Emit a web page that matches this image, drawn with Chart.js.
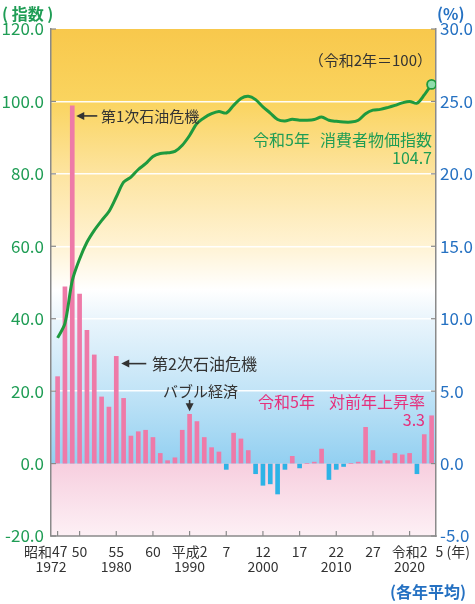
<!DOCTYPE html>
<html>
<head>
<meta charset="utf-8">
<script src="https://cdn.jsdelivr.net/npm/chart.js@4.4.1/dist/chart.umd.min.js"></script>
<style>
  html, body { margin: 0; padding: 0; background: #fff; }
  #wrap { width: 475px; height: 604px; }
</style>
</head>
<body>
<div id="wrap"><canvas id="cpiChart" width="475" height="604"></canvas></div>
<script>
// 年 (1972 = 昭和47 ... 2023 = 令和5)
const years = [1972, 1973, 1974, 1975, 1976, 1977, 1978, 1979, 1980, 1981,
  1982, 1983, 1984, 1985, 1986, 1987, 1988, 1989, 1990, 1991,
  1992, 1993, 1994, 1995, 1996, 1997, 1998, 1999, 2000, 2001,
  2002, 2003, 2004, 2005, 2006, 2007, 2008, 2009, 2010, 2011,
  2012, 2013, 2014, 2015, 2016, 2017, 2018, 2019, 2020, 2021,
  2022, 2023];

// 対前年上昇率 (%)
const rateValues = [6.0, 12.2, 24.7, 11.7, 9.2, 7.5, 4.6, 3.9, 7.4, 4.5,
  1.9, 2.2, 2.3, 1.8, 0.7, 0.2, 0.4, 2.3, 3.4, 2.9,
  1.8, 1.1, 0.8, -0.4, 2.1, 1.7, 0.9, -0.7, -1.5, -1.4,
  -2.1, -0.4, 0.5, -0.3, 0.0, 0.1, 1.0, -1.1, -0.4, -0.2,
  0.0, 0.1, 2.5, 0.9, 0.2, 0.2, 0.7, 0.6, 0.7, -0.7,
  2.0, 3.3];

// 消費者物価指数 (令和2年=100)
const indexValues = [34.7, 38.7, 50.5, 56.5, 61.1, 64.4, 67.1, 69.6, 73.6, 77.7,
  79.1, 81.2, 82.8, 84.8, 85.6, 85.8, 86.2, 87.9, 90.6, 93.9,
  95.5, 96.6, 97.2, 96.8, 98.9, 100.8, 101.4, 100.5, 98.5, 96.8,
  95.0, 94.6, 95.1, 94.8, 94.8, 95.0, 95.7, 94.8, 94.5, 94.3,
  94.3, 94.8, 96.6, 97.6, 97.8, 98.3, 98.9, 99.6, 100.0, 99.5,
  101.8, 104.7];

// 横軸の目盛り
const tickYears = [1972, 1975, 1980, 1985, 1990, 1995, 2000, 2005, 2010, 2015, 2020, 2023];
const tickEra = ['昭和47', '50', '55', '60', '平成2', '7', '12', '17', '22', '27', '令和2', '5'];
const tickWestern = ['1972', '', '1980', '', '1990', '', '2000', '', '2010', '', '2020', ''];

const FONT = "'Noto Sans CJK JP', 'Noto Sans', sans-serif";
const GREEN = '#1f9d55';
const BLUE = '#2571c2';
const MAGENTA = '#e5317d';
const DARK = '#333333';

const backgroundPlugin = {
  id: 'background',
  beforeDraw(chart) {
    const { ctx, chartArea: a, scales } = chart;
    const y = scales.y;
    const h = a.bottom - a.top;
    const pos = v => (y.getPixelForValue(v) - a.top) / h;
    const g = ctx.createLinearGradient(0, a.top, 0, a.bottom);
    g.addColorStop(0, '#f8c84c');
    g.addColorStop(pos(100), '#fad45f');
    g.addColorStop(pos(80), '#fde4a0');
    g.addColorStop(pos(60), '#fff3d4');
    g.addColorStop(pos(48), '#ffffff');
    g.addColorStop(pos(40), '#eaf5fc');
    g.addColorStop(pos(20), '#c2e4f7');
    g.addColorStop(pos(0.2), '#93d0f1');
    g.addColorStop(pos(-0.2), '#f7cfdf');
    g.addColorStop(1, '#fdf0f5');
    ctx.save();
    ctx.fillStyle = g;
    ctx.fillRect(a.left, a.top, a.right - a.left, h);
    ctx.restore();
  }
};

function arrowHead(ctx, x, y, dir) {
  // dir: 'left' or 'down'
  ctx.beginPath();
  if (dir === 'left') {
    ctx.moveTo(x, y);
    ctx.lineTo(x + 8, y - 4);
    ctx.lineTo(x + 8, y + 4);
  } else {
    ctx.moveTo(x, y);
    ctx.lineTo(x - 4, y - 8);
    ctx.lineTo(x + 4, y - 8);
  }
  ctx.closePath();
  ctx.fill();
}

const annotationPlugin = {
  id: 'annotations',
  afterDraw(chart) {
    const { ctx, chartArea: a, scales } = chart;
    const x = scales.x, y = scales.y, yR = scales.yR;
    ctx.save();

    // 下の枠線
    ctx.strokeStyle = '#8a8a8a';
    ctx.lineWidth = 1.5;
    ctx.beginPath();
    ctx.moveTo(a.left - 0.75, a.bottom);
    ctx.lineTo(a.right + 0.75, a.bottom);
    ctx.stroke();

    // 内向きの目盛り線
    ctx.lineWidth = 1.2;
    y.ticks.forEach(t => {
      const py = y.getPixelForValue(t.value);
      ctx.beginPath(); ctx.moveTo(a.left, py); ctx.lineTo(a.left + 5, py); ctx.stroke();
    });
    yR.ticks.forEach(t => {
      const py = yR.getPixelForValue(t.value);
      ctx.beginPath(); ctx.moveTo(a.right - 5, py); ctx.lineTo(a.right, py); ctx.stroke();
    });
    tickYears.slice(0, -1).forEach(yr => {
      const px = x.getPixelForValue(yr);
      ctx.beginPath(); ctx.moveTo(px, a.bottom); ctx.lineTo(px, a.bottom - 5); ctx.stroke();
    });

    // 横軸ラベル
    ctx.fillStyle = DARK;
    ctx.font = `14px ${FONT}`;
    ctx.textBaseline = 'middle';
    tickYears.forEach((yr, i) => {
      const px = x.getPixelForValue(yr);
      if (i === 0) {
        ctx.textAlign = 'right';
        ctx.fillText(tickEra[i], px + 10, 552);
        ctx.fillText(tickWestern[i], px + 9, 567);
      } else if (i === tickYears.length - 1) {
        ctx.textAlign = 'left';
        ctx.fillText(tickEra[i] + ' (年)', px + 4, 552);
      } else {
        ctx.textAlign = 'center';
        ctx.fillText(tickEra[i], px, 552);
        if (tickWestern[i]) ctx.fillText(tickWestern[i], px, 567);
      }
    });

    // 軸タイトル
    ctx.font = `bold 16px ${FONT}`;
    ctx.textAlign = 'left';
    ctx.fillStyle = GREEN;
    ctx.fillText('( 指数 )', 2, 14);
    ctx.fillStyle = BLUE;
    ctx.fillText('(%)', 437, 14);
    ctx.textAlign = 'right';
    ctx.fillText('(各年平均)', 466, 592);

    // 石油危機などの注記
    ctx.fillStyle = DARK;
    ctx.strokeStyle = DARK;
    ctx.lineWidth = 1.6;
    const x74 = x.getPixelForValue(1974) + 4;
    const y74 = yR.getPixelForValue(24.0);
    arrowHead(ctx, x74, y74, 'left');
    ctx.beginPath(); ctx.moveTo(x74 + 7, y74); ctx.lineTo(x74 + 21, y74); ctx.stroke();
    ctx.font = `15px ${FONT}`;
    ctx.textAlign = 'left';
    ctx.fillText('第1次石油危機', 101, y74);

    const x80 = x.getPixelForValue(1980) + 5;
    const y80 = yR.getPixelForValue(6.9);
    arrowHead(ctx, x80, y80, 'left');
    ctx.beginPath(); ctx.moveTo(x80 + 7, y80); ctx.lineTo(x80 + 25, y80); ctx.stroke();
    ctx.font = `16px ${FONT}`;
    ctx.fillText('第2次石油危機', 152, y80);

    const x90 = x.getPixelForValue(1990);
    const y90 = yR.getPixelForValue(3.4) - 3;
    ctx.font = `15px ${FONT}`;
    ctx.textAlign = 'center';
    ctx.fillText('バブル経済', x90 + 11, 391);
    ctx.beginPath(); ctx.moveTo(x90, 400); ctx.lineTo(x90, y90 - 6); ctx.stroke();
    arrowHead(ctx, x90, y90, 'down');

    ctx.textAlign = 'right';
    ctx.font = `15px ${FONT}`;
    ctx.fillText('（令和2年＝100）', 432, 60);

    // 令和5年の値
    ctx.fillStyle = GREEN;
    ctx.font = `16px ${FONT}`;
    ctx.textAlign = 'left';
    ctx.fillText('令和5年', 253, 140);
    ctx.textAlign = 'right';
    ctx.fillText('消費者物価指数', 432, 140);
    ctx.fillText(indexValues[indexValues.length - 1].toFixed(1), 432, 158);

    ctx.fillStyle = MAGENTA;
    ctx.textAlign = 'left';
    ctx.fillText('令和5年', 258, 402);
    ctx.textAlign = 'right';
    ctx.fillText('対前年上昇率', 425, 402);
    ctx.fillText(rateValues[rateValues.length - 1].toFixed(1), 425, 420);

    ctx.restore();
  }
};

const ctx = document.getElementById('cpiChart').getContext('2d');
new Chart(ctx, {
  type: 'bar',
  data: {
    datasets: [
      {
        type: 'line',
        label: '消費者物価指数',
        data: years.map((yr, i) => ({ x: yr, y: indexValues[i] })),
        xAxisID: 'x',
        yAxisID: 'y',
        borderColor: '#1e9a3e',
        borderWidth: 3,
        tension: 0.3,
        pointRadius: years.map((yr, i) => i === years.length - 1 ? 4.5 : 0),
        pointBackgroundColor: '#8fdcab',
        pointBorderColor: '#1e9a3e',
        pointBorderWidth: 1.8,
        order: 0
      },
      {
        type: 'bar',
        label: '対前年上昇率',
        data: years.map((yr, i) => ({ x: yr, y: rateValues[i] })),
        xAxisID: 'x',
        yAxisID: 'yR',
        barThickness: 4,
        backgroundColor: rateValues.map(v => v < 0 ? '#2db3e6' : '#ee7aa8'),
        order: 1
      }
    ]
  },
  options: {
    responsive: false,
    animation: false,
    devicePixelRatio: 1,
    layout: { padding: { top: 29, bottom: 68, left: 0, right: 0 } },
    plugins: { legend: { display: false }, tooltip: { enabled: false } },
    scales: {
      x: {
        type: 'linear',
        display: false,
        offset: false,
        min: 1971.1,
        max: 2023.6
      },
      y: {
        position: 'left',
        min: -20,
        max: 120,
        ticks: {
          stepSize: 20,
          padding: 7,
          color: GREEN,
          font: { family: FONT, size: 17 },
          callback: v => v.toFixed(1)
        },
        grid: {
          drawTicks: false,
          lineWidth: 1.5,
          color: c => (c.tick && c.tick.value > 0 && c.tick.value < 120) ? 'rgba(255,255,255,0.95)' : 'rgba(0,0,0,0)'
        },
        border: { display: true, color: '#8a8a8a', width: 1.5 },
        afterFit: s => { s.width = 51; }
      },
      yR: {
        position: 'right',
        min: -5,
        max: 30,
        ticks: {
          stepSize: 5,
          padding: 4,
          color: BLUE,
          font: { family: FONT, size: 17 },
          callback: v => v.toFixed(1)
        },
        grid: { drawOnChartArea: false, drawTicks: false },
        border: { display: true, color: '#8a8a8a', width: 1.5 },
        afterFit: s => { s.width = 39; }
      }
    }
  },
  plugins: [backgroundPlugin, annotationPlugin]
});
</script>
</body>
</html>
